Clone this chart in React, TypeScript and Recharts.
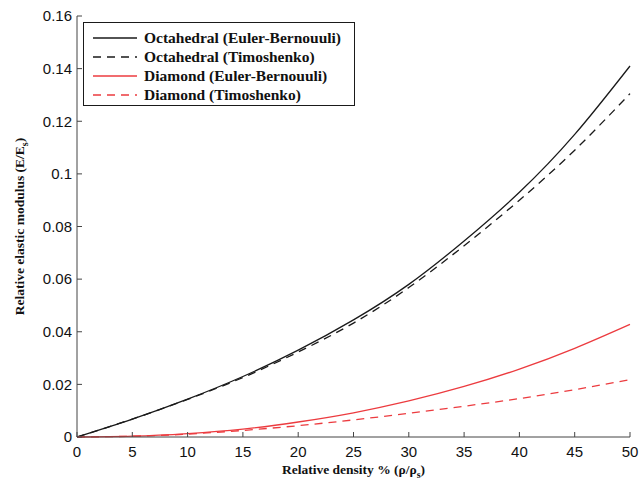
import React from 'react'
import { LineChart, Line, XAxis, YAxis, Label } from 'recharts'

const density = [0, 5, 10, 15, 20, 25, 30, 35, 40, 45, 50]
const octaEuler = [0, 0.0068, 0.0144, 0.023, 0.033, 0.0445, 0.058, 0.0745, 0.093, 0.115, 0.141]
const octaTimo = [0, 0.0068, 0.0143, 0.0226, 0.0323, 0.0433, 0.0568, 0.0727, 0.09, 0.109, 0.1305]
const diamEuler = [0, 0.0003, 0.0013, 0.003, 0.0057, 0.0092, 0.0137, 0.0192, 0.0258, 0.0337, 0.0428]
const diamTimo = [0, 0.0003, 0.0011, 0.0025, 0.0043, 0.0065, 0.009, 0.0117, 0.0146, 0.018, 0.0218]

const xTicks = [0, 5, 10, 15, 20, 25, 30, 35, 40, 45, 50]
const yTicks = [0, 0.02, 0.04, 0.06, 0.08, 0.1, 0.12, 0.14, 0.16]

const rows = density.map((d, i) => ({
  d,
  octaEuler: octaEuler[i],
  octaTimo: octaTimo[i],
  diamEuler: diamEuler[i],
  diamTimo: diamTimo[i],
}))

const BLACK = '#1a1a1a'
const RED = '#ec3b3f'
const AXIS = '#444'
const TICK_FONT = '"Liberation Sans", Arial, sans-serif'
const SERIF = '"Liberation Serif", "Times New Roman", serif'

const legendItems = [
  { label: 'Octahedral (Euler-Bernouuli)', color: BLACK, dash: undefined },
  { label: 'Octahedral (Timoshenko)', color: BLACK, dash: '8 6' },
  { label: 'Diamond (Euler-Bernouuli)', color: RED, dash: undefined },
  { label: 'Diamond (Timoshenko)', color: RED, dash: '8 6' },
]

const fmtY = (v: number) => String(Number(v.toFixed(2)))

// inward tick marks, MATLAB style
function BottomTick(props: any) {
  const { x, y, payload } = props
  const axisY = y - 9
  return (
    <g>
      <line x1={x} x2={x} y1={axisY} y2={axisY - 5} stroke={AXIS} />
      <text x={x} y={y} dy="0.71em" textAnchor="middle" fill="#111" fontSize={15} fontFamily={TICK_FONT}>
        {payload.value}
      </text>
    </g>
  )
}

function LeftTick(props: any) {
  const { x, y, payload } = props
  const axisX = x + 5
  return (
    <g>
      <line x1={axisX} x2={axisX + 5} y1={y} y2={y} stroke={AXIS} />
      <text x={x} y={y} dy="0.355em" textAnchor="end" fill="#111" fontSize={15} fontFamily={TICK_FONT}>
        {fmtY(payload.value)}
      </text>
    </g>
  )
}

function TopTick(props: any) {
  const { x, y } = props
  return <line x1={x} x2={x} y1={y} y2={y + 5} stroke={AXIS} />
}

function RightTick(props: any) {
  const { x, y } = props
  return <line x1={x} x2={x - 5} y1={y} y2={y} stroke={AXIS} />
}

export default function App() {
  return (
    <div style={{ position: 'absolute', left: 0, top: 0, width: 643, height: 481, background: '#fff' }}>
      <LineChart width={643} height={481} data={rows} margin={{ top: 16, right: 13, bottom: 0, left: 0 }}>
        <XAxis
          dataKey="d"
          type="number"
          domain={[0, 50]}
          ticks={xTicks}
          interval={0}
          height={44}
          tickSize={0}
          tickMargin={9}
          tickLine={false}
          tick={<BottomTick />}
          axisLine={{ stroke: AXIS }}
        >
          <Label
            content={({ viewBox }: any) => (
              <text
                x={viewBox.x + viewBox.width / 2}
                y={474}
                textAnchor="middle"
                fontFamily={SERIF}
                fontWeight="bold"
                fontSize={13.5}
                fill="#111"
              >
                Relative density % (ρ/ρ
                <tspan fontSize={10} dy={4}>s</tspan>
                <tspan dy={-4}>)</tspan>
              </text>
            )}
          />
        </XAxis>
        <XAxis
          xAxisId="top"
          dataKey="d"
          type="number"
          orientation="top"
          domain={[0, 50]}
          ticks={xTicks}
          interval={0}
          height={0}
          tickSize={0}
          tickMargin={0}
          tickLine={false}
          tick={<TopTick />}
          axisLine={{ stroke: AXIS }}
        />
        <YAxis
          type="number"
          domain={[0, 0.16]}
          ticks={yTicks}
          interval={0}
          width={77}
          tickSize={0}
          tickMargin={5}
          tickLine={false}
          tick={<LeftTick />}
          axisLine={{ stroke: AXIS }}
        >
          <Label
            content={({ viewBox }: any) => {
              const cy = viewBox.y + viewBox.height / 2
              return (
                <text
                  x={24}
                  y={cy}
                  transform={`rotate(-90, 24, ${cy})`}
                  textAnchor="middle"
                  fontFamily={SERIF}
                  fontWeight="bold"
                  fontSize={13.5}
                  fill="#111"
                >
                  Relative elastic modulus (E/E
                  <tspan fontSize={10} dy={4}>s</tspan>
                  <tspan dy={-4}>)</tspan>
                </text>
              )
            }}
          />
        </YAxis>
        <YAxis
          yAxisId="right"
          type="number"
          orientation="right"
          domain={[0, 0.16]}
          ticks={yTicks}
          interval={0}
          width={0}
          tickSize={0}
          tickMargin={0}
          tickLine={false}
          tick={<RightTick />}
          axisLine={{ stroke: AXIS }}
        />
        <Line type="natural" dataKey="octaEuler" stroke={BLACK} strokeWidth={1.3} dot={false} isAnimationActive={false} />
        <Line type="natural" dataKey="octaTimo" stroke={BLACK} strokeWidth={1.3} strokeDasharray="8 6" dot={false} isAnimationActive={false} />
        <Line type="natural" dataKey="diamEuler" stroke={RED} strokeWidth={1.3} dot={false} isAnimationActive={false} />
        <Line type="natural" dataKey="diamTimo" stroke={RED} strokeWidth={1.3} strokeDasharray="8 6" dot={false} isAnimationActive={false} />
      </LineChart>
      <div
        style={{
          position: 'absolute',
          left: 83,
          top: 22,
          width: 272,
          height: 84,
          border: `1px solid ${BLACK}`,
          background: '#fff',
          boxSizing: 'border-box',
          padding: '5px 0 0 9px',
        }}
      >
        {legendItems.map((it) => (
          <div key={it.label} style={{ display: 'flex', alignItems: 'center', height: 19 }}>
            <svg width={44} height={4} style={{ marginRight: 7 }}>
              <line x1={0} x2={44} y1={2} y2={2} stroke={it.color} strokeWidth={1.3} strokeDasharray={it.dash} />
            </svg>
            <span style={{ fontFamily: SERIF, fontWeight: 'bold', fontSize: 15.5, color: '#111', whiteSpace: 'nowrap' }}>
              {it.label}
            </span>
          </div>
        ))}
      </div>
    </div>
  )
}
